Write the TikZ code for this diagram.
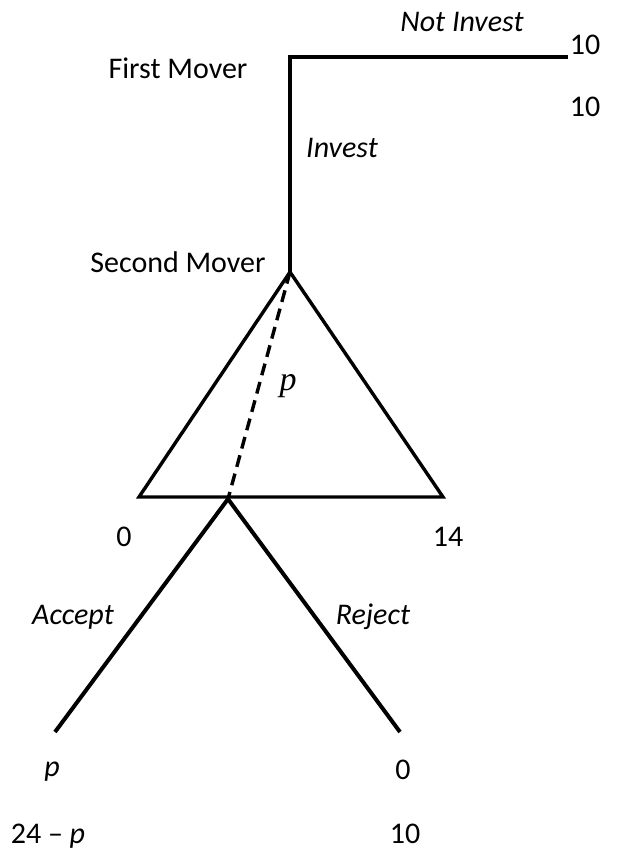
\documentclass[tikz,border=0pt]{standalone}
\usepackage{fontspec}
\setmainfont{Carlito}
\newfontfamily\serifp{Liberation Serif}
\usetikzlibrary{positioning}

\begin{document}
\begin{tikzpicture}[x=1pt, y=-1pt, font=\fontsize{30}{36}\selectfont,
    branch/.style={line width=4pt},
    face/.style={line width=3.4pt},
    act/.style={font=\fontsize{30}{36}\selectfont\itshape},
    pay/.style={inner sep=0pt}]
  \useasboundingbox (0,0) rectangle (627,855);

  % Decision points
  \coordinate (root)  at (290,57);
  \coordinate (quit)  at (568,57);
  \coordinate (sec)   at (290,272);
  \coordinate (left)  at (139,497);
  \coordinate (right) at (443,497);
  \coordinate (offer) at (228,499);
  \coordinate (acc)   at (55,732);
  \coordinate (rej)   at (400,732);

  % First mover
  \draw[branch] (quit) -- (root) -- (sec);

  % Offer range and chosen p
  \draw[face] (sec) -- (left) -- (right) -- cycle;
  \draw[face, dash pattern=on 12pt off 7pt] (sec) -- (offer);

  % Responder
  \draw[branch] (acc) -- (offer) -- (rej);

  % Players and actions
  \node (fm)     at (178,68)  {First Mover};
  \node (sm)     at (178,262) {Second Mover};
  \node[act] (ni)  at (462,22)  {Not Invest};
  \node[act] (inv) at (342,148) {Invest};
  \node[act] (ac)  at (73,617)  {Accept};
  \node[act] (rj)  at (373,617) {Reject};
  \node (pp)     at (288,386) {\fontsize{34}{40}\selectfont\serifp\itshape p};

  % Payoffs
  \node[pay] (ni1)  at (585,45)  {10};
  \node[pay] (ni2)  at (585,107) {10};
  \node[pay] (lo)   at (124,537) {0};
  \node[pay] (hi)   at (448,537) {14};
  \node[pay] (ac1)  at (52,772)  {\textit{p}};
  \node[pay] (ac2)  at (48,836)  {24 -- \textit{p}};
  \node[pay] (rj1)  at (403,770) {0};
  \node[pay] (rj2)  at (405,834) {10};
\end{tikzpicture}
\end{document}
